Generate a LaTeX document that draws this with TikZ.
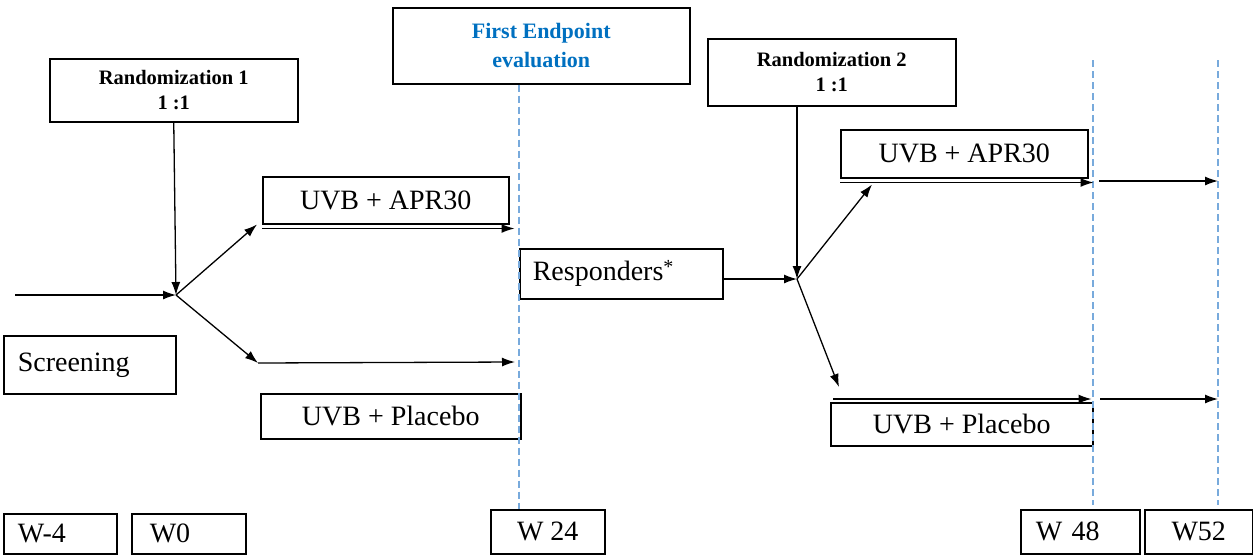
\documentclass[tikz,border=0pt]{standalone}
\usepackage{fontspec}
\setmainfont{Liberation Serif}
\usetikzlibrary{positioning,arrows.meta}
\definecolor{endblue}{RGB}{0,112,192}
\definecolor{guideblue}{RGB}{120,170,220}

\begin{document}
\begin{tikzpicture}
            [%%%%%%%%%%%%%%%%%%%%%%%%%%%%%%%%%%%%%%%%%%%%%%%%%%%%%%%%%%
                x=1pt,y=-1pt,>={Latex[length=13pt,width=9pt]},
                box/.style={draw,line width=1.5pt,anchor=north west,inner sep=0pt,
                            font=\fontsize{28}{32}\selectfont},
                lbox/.style 2 args={box,align=left,inner xsep=#1,text width=#2},
                head/.style={box,align=center,font=\bfseries\fontsize{20.5}{25}\selectfont},
                flow/.style={->,line width=1.3pt},
                guide/.style={guideblue,line width=1.2pt,dash pattern=on 7pt off 4pt}
            ]%%%%%%%%%%%%%%%%%%%%%%%%%%%%%%%%%%%%%%%%%%%%%%%%%%%%%%%%%%
            \useasboundingbox (0,0) rectangle (1253,555);

            % headers
            \node[head,minimum width=248pt,minimum height=63pt] (rnda) at (49,58) {Randomization 1\\1 :1};
            \node[head,minimum width=297pt,minimum height=76pt,text=endblue,
                  font=\bfseries\fontsize{22}{29}\selectfont] (first) at (392,7) {First Endpoint\\evaluation};
            \node[head,minimum width=248pt,minimum height=67pt] (rndb) at (707,38) {Randomization 2\\1 :1};

            % arms
            \node[lbox={14pt}{144pt},minimum height=58pt] (scr) at (3,335) {Screening};
            \node[box,minimum width=246pt,minimum height=47pt] (apra) at (262,176) {UVB + APR30};
            \node[box,minimum width=260pt,minimum height=45pt] (plca) at (260,393) {UVB + Placebo};
            \node[lbox={13pt}{177pt},minimum height=50pt] (resp) at (519,248)
                {Responders\raisebox{7pt}{\fontsize{20}{20}\selectfont *}};
            \node[box,minimum width=247pt,minimum height=48pt] (aprb) at (840,129) {UVB + APR30};
            \node[box,minimum width=262pt,minimum height=43pt] (plcb) at (830,402) {UVB + Placebo};

            % weeks
            \node[lbox={14pt}{85pt},minimum height=40pt] (wm4) at (3,513) {W-4};
            \node[lbox={18pt}{78pt},minimum height=40pt] (w0) at (131,513) {W0};
            \node[box,minimum width=114pt,minimum height=44pt] (w24) at (490,509) {W 24};
            \node[lbox={15pt}{89pt},minimum height=44pt] (w48) at (1020,509) {W 48};
            \node[box,minimum width=108pt,minimum height=44pt] (w52) at (1144,509) {W52};

            % time guides
            \draw[guide] (resp.west |- first.south) -- (resp.west |- w24.north);
            \foreach \gx in {1093,1218}
                \draw[guide] (\gx,60) -- (\gx,505);

            \coordinate (sa)  at (15,295);
            \coordinate (spa) at (176,295);
            \coordinate (spb) at (797,279);
            \coordinate (pla) at (258,363);
            \coordinate (plz) at (515,362);

            % first randomization
            \draw[flow] (sa) -- (spa);
            \draw[flow] (rnda.south) -- (spa);
            \draw[flow] (spa) -- ([xshift=-5pt]apra.south west);
            \draw[flow] ([yshift=-4pt]apra.south west) -- ([xshift=5pt,yshift=-4pt]apra.south east);
            \draw[flow] (spa) -- (pla);
            \draw[flow] (pla) -- (plz);

            % second randomization
            \draw[flow] (rndb.south -| spb) -- (spb);
            \draw[flow] (resp.east |- spb) -- (spb);
            \draw[flow] (spb) -- ([xshift=32pt,yshift=-6pt]aprb.south west);
            \draw[flow] ([yshift=-4pt]aprb.south west) -- ([xshift=5pt,yshift=-4pt]aprb.south east);
            \draw[flow] (spb) -- ([xshift=9pt,yshift=15pt]plcb.north west);
            \draw[flow] ([xshift=3pt,yshift=3pt]plcb.north west) -- ([xshift=-2pt,yshift=3pt]plcb.north east);
            \draw[flow] (1099,181) -- (1218,181);
            \draw[flow] (1100,399) -- (1218,399);
        \end{tikzpicture}
\end{document}
